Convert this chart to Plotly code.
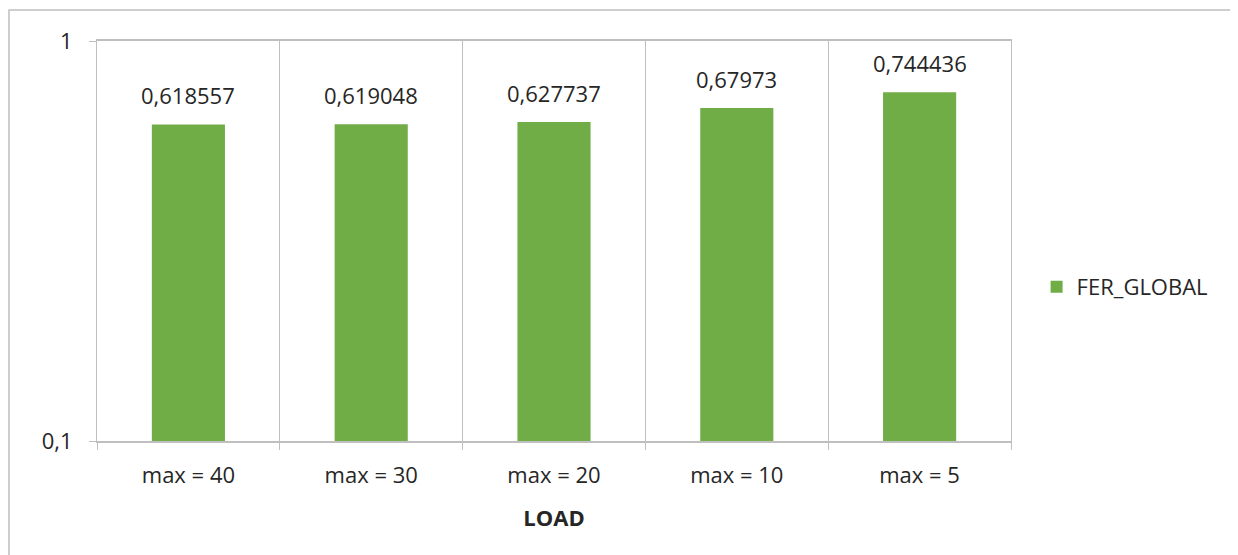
import math
import plotly.graph_objects as go

# ---------------- data ----------------
categories = ["max = 40", "max = 30", "max = 20", "max = 10", "max = 5"]
fer_global = [0.618557, 0.619048, 0.627737, 0.67973, 0.744436]
series_name = "FER_GLOBAL"
y_tick_vals = [0.1, 1]
y_tick_text = ["0,1", "1"]

GREEN = "#70AD47"
GRID = "#BFBFBF"
TXT = "#262626"
FONT = "Open Sans"
FS = 22

fig = go.Figure()
fig.add_trace(go.Bar(x=categories, y=fer_global, name=series_name,
                     marker=dict(color=GREEN, line=dict(width=0)), width=0.4))

# data labels above bars (annotation y is in log10 units on a log axis)
for c, v in zip(categories, fer_global):
    fig.add_annotation(x=c, y=math.log10(v), yref="y", text=str(v).replace(".", ","), showarrow=False,
                       yanchor="bottom", yshift=12, font=dict(size=FS, color=TXT, family=FONT))

fig.update_layout(
    width=1238, height=555,
    margin=dict(l=89, r=235, t=33, b=122),
    paper_bgcolor="white", plot_bgcolor="white",
    font=dict(family=FONT, size=FS, color=TXT),
    showlegend=True,
    legend=dict(x=1.028, y=0.385, xanchor="left", yanchor="middle",
                font=dict(size=FS, color=TXT), bgcolor="rgba(0,0,0,0)"),
)
fig.update_xaxes(type="category", tickson="boundaries", showgrid=True, gridcolor=GRID, gridwidth=1,
                 showline=True, mirror=True, linecolor=GRID, linewidth=1.5, ticks="outside", ticklen=7,
                 tickcolor=GRID, range=[-0.5, 4.5], ticklabelstandoff=14,
                 title=dict(text="<b>LOAD</b>", font=dict(size=FS, color=TXT, family=FONT), standoff=22),
                 tickfont=dict(size=FS, color=TXT), zeroline=False)
fig.update_yaxes(type="log", range=[-1, 0], tickvals=y_tick_vals, ticktext=y_tick_text,
                 showgrid=True, gridcolor=GRID, gridwidth=1, ticks="outside", ticklen=7,
                 tickcolor=GRID, showline=True, mirror=True, linecolor=GRID, linewidth=1,
                 zeroline=False, ticklabelstandoff=12,
                 tickfont=dict(size=FS, color=TXT))

# outer chart border (partly off-canvas, as in the reference)
fig.add_shape(type="rect", xref="paper", yref="paper", x0=-0.0963, x1=1.4, y0=-0.5, y1=1.0775,
              line=dict(color="#BFBFBF", width=1.5), fillcolor="rgba(0,0,0,0)", layer="below")

fig.write_html("out.html")
